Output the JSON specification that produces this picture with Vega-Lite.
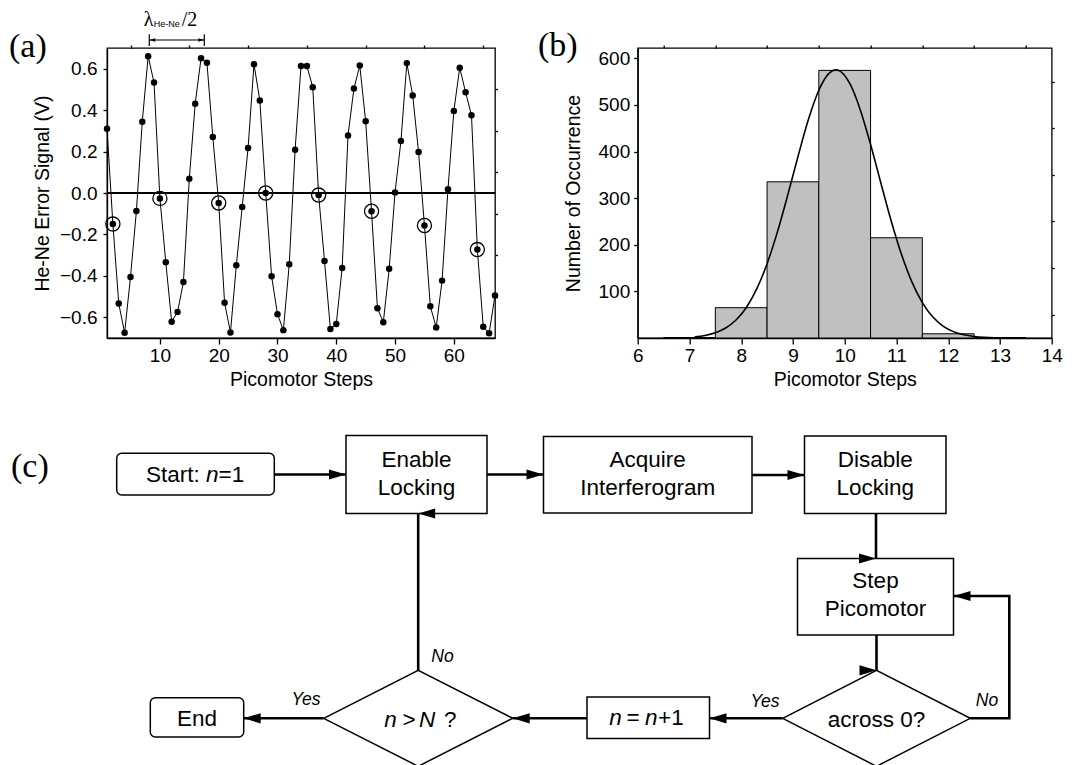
{
  "$schema": "https://vega.github.io/schema/vega-lite/v6.json",
  "background": "white",
  "padding": {"left": 8, "top": 9, "right": 0, "bottom": 0},
  "bounds": "flush",
  "spacing": 373,
  "config": {
    "font": "Liberation Sans",
    "view": {"stroke": "black", "strokeWidth": 1.3},
    "axis": {
      "labelFont": "Liberation Sans",
      "titleFont": "Liberation Sans",
      "labelFontSize": 19,
      "titleFontSize": 19.5,
      "titleFontWeight": "normal",
      "labelColor": "black",
      "titleColor": "black",
      "domainColor": "black",
      "tickColor": "black",
      "domainWidth": 1.3,
      "tickWidth": 1.3,
      "grid": false,
      "labelFlush": false,
      "labelOverlap": false,
      "labelBound": false
    }
  },
  "datasets": {
    "wave": [
      {"step": 1, "signal": 0.31, "crossing": false},
      {"step": 2, "signal": -0.15, "crossing": true},
      {"step": 3, "signal": -0.534, "crossing": false},
      {"step": 4, "signal": -0.675, "crossing": false},
      {"step": 5, "signal": -0.405, "crossing": false},
      {"step": 6, "signal": -0.087, "crossing": false},
      {"step": 7, "signal": 0.344, "crossing": false},
      {"step": 8, "signal": 0.66, "crossing": false},
      {"step": 9, "signal": 0.533, "crossing": false},
      {"step": 10, "signal": -0.026, "crossing": true},
      {"step": 11, "signal": -0.334, "crossing": false},
      {"step": 12, "signal": -0.622, "crossing": false},
      {"step": 13, "signal": -0.574, "crossing": false},
      {"step": 14, "signal": -0.43, "crossing": false},
      {"step": 15, "signal": 0.069, "crossing": false},
      {"step": 16, "signal": 0.431, "crossing": false},
      {"step": 17, "signal": 0.65, "crossing": false},
      {"step": 18, "signal": 0.629, "crossing": false},
      {"step": 19, "signal": 0.27, "crossing": false},
      {"step": 20, "signal": -0.048, "crossing": true},
      {"step": 21, "signal": -0.53, "crossing": false},
      {"step": 22, "signal": -0.673, "crossing": false},
      {"step": 23, "signal": -0.349, "crossing": false},
      {"step": 24, "signal": -0.067, "crossing": false},
      {"step": 25, "signal": 0.217, "crossing": false},
      {"step": 26, "signal": 0.622, "crossing": false},
      {"step": 27, "signal": 0.446, "crossing": false},
      {"step": 28, "signal": 0.0, "crossing": true},
      {"step": 29, "signal": -0.402, "crossing": false},
      {"step": 30, "signal": -0.585, "crossing": false},
      {"step": 31, "signal": -0.662, "crossing": false},
      {"step": 32, "signal": -0.344, "crossing": false},
      {"step": 33, "signal": 0.209, "crossing": false},
      {"step": 34, "signal": 0.613, "crossing": false},
      {"step": 35, "signal": 0.613, "crossing": false},
      {"step": 36, "signal": 0.511, "crossing": false},
      {"step": 37, "signal": -0.01, "crossing": true},
      {"step": 38, "signal": -0.328, "crossing": false},
      {"step": 39, "signal": -0.657, "crossing": false},
      {"step": 40, "signal": -0.632, "crossing": false},
      {"step": 41, "signal": -0.362, "crossing": false},
      {"step": 42, "signal": 0.278, "crossing": false},
      {"step": 43, "signal": 0.504, "crossing": false},
      {"step": 44, "signal": 0.615, "crossing": false},
      {"step": 45, "signal": 0.346, "crossing": false},
      {"step": 46, "signal": -0.088, "crossing": true},
      {"step": 47, "signal": -0.556, "crossing": false},
      {"step": 48, "signal": -0.624, "crossing": false},
      {"step": 49, "signal": -0.366, "crossing": false},
      {"step": 50, "signal": 0.003, "crossing": false},
      {"step": 51, "signal": 0.251, "crossing": false},
      {"step": 52, "signal": 0.627, "crossing": false},
      {"step": 53, "signal": 0.471, "crossing": false},
      {"step": 54, "signal": 0.198, "crossing": false},
      {"step": 55, "signal": -0.157, "crossing": true},
      {"step": 56, "signal": -0.547, "crossing": false},
      {"step": 57, "signal": -0.649, "crossing": false},
      {"step": 58, "signal": -0.423, "crossing": false},
      {"step": 59, "signal": 0.018, "crossing": false},
      {"step": 60, "signal": 0.396, "crossing": false},
      {"step": 61, "signal": 0.605, "crossing": false},
      {"step": 62, "signal": 0.486, "crossing": false},
      {"step": 63, "signal": 0.375, "crossing": false},
      {"step": 64, "signal": -0.273, "crossing": true},
      {"step": 65, "signal": -0.646, "crossing": false},
      {"step": 66, "signal": -0.677, "crossing": false},
      {"step": 67, "signal": -0.495, "crossing": false}
    ],
    "counts": [
      {"lo": 6.5, "hi": 7.5, "count": 1},
      {"lo": 7.5, "hi": 8.5, "count": 65},
      {"lo": 8.5, "hi": 9.5, "count": 335},
      {"lo": 9.5, "hi": 10.5, "count": 574},
      {"lo": 10.5, "hi": 11.5, "count": 215},
      {"lo": 11.5, "hi": 12.5, "count": 9},
      {"lo": 12.5, "hi": 13.5, "count": 1}
    ],
    "fit": [
      {"steps": 7.1, "count": 2.6}, {"steps": 7.3, "count": 5.5}, {"steps": 7.5, "count": 11.2},
      {"steps": 7.7, "count": 21.4}, {"steps": 7.9, "count": 38.5}, {"steps": 8.1, "count": 65.5},
      {"steps": 8.3, "count": 105.2}, {"steps": 8.5, "count": 159.3}, {"steps": 8.7, "count": 227.6},
      {"steps": 8.9, "count": 306.9}, {"steps": 9.1, "count": 390.5}, {"steps": 9.3, "count": 469.0},
      {"steps": 9.5, "count": 531.3}, {"steps": 9.7, "count": 568.0}, {"steps": 9.83, "count": 575.0},
      {"steps": 9.9, "count": 573.0}, {"steps": 10.1, "count": 545.4}, {"steps": 10.3, "count": 489.8},
      {"steps": 10.5, "count": 415.1}, {"steps": 10.7, "count": 332.0}, {"steps": 10.9, "count": 250.5},
      {"steps": 11.1, "count": 178.4}, {"steps": 11.3, "count": 119.8}, {"steps": 11.5, "count": 76.0},
      {"steps": 11.7, "count": 45.4}, {"steps": 11.9, "count": 25.6}, {"steps": 12.1, "count": 13.7},
      {"steps": 12.3, "count": 6.9}, {"steps": 12.5, "count": 3.3}, {"steps": 12.7, "count": 1.5},
      {"steps": 12.9, "count": 0.6}, {"steps": 13.1, "count": 0.2}, {"steps": 13.3, "count": 0.1}
    ],
    "boxes": [
      {"kind": "box", "x1": 345, "x2": 486, "y1": 434.5, "y2": 512.5},
      {"kind": "box", "x1": 542.5, "x2": 751, "y1": 435.5, "y2": 512},
      {"kind": "box", "x1": 803.5, "x2": 945, "y1": 435, "y2": 512.5},
      {"kind": "box", "x1": 796.5, "x2": 952.5, "y1": 557.5, "y2": 634},
      {"kind": "box", "x1": 586, "x2": 708.5, "y1": 696, "y2": 737.5},
      {"kind": "terminal", "x1": 115.7, "x2": 273.3, "y1": 452.3, "y2": 494},
      {"kind": "terminal", "x1": 149.3, "x2": 242.7, "y1": 696.7, "y2": 736}
    ],
    "decisions": [
      {"id": "count", "k": 0, "x": 322.7, "y": 717.3},
      {"id": "count", "k": 1, "x": 417.2, "y": 669.3},
      {"id": "count", "k": 2, "x": 511.7, "y": 717.3},
      {"id": "count", "k": 3, "x": 417.2, "y": 765.3},
      {"id": "count", "k": 4, "x": 322.7, "y": 717.3},
      {"id": "zero", "k": 0, "x": 781.7, "y": 717.3},
      {"id": "zero", "k": 1, "x": 875.5, "y": 669.3},
      {"id": "zero", "k": 2, "x": 969.3, "y": 717.3},
      {"id": "zero", "k": 3, "x": 875.5, "y": 765.3},
      {"id": "zero", "k": 4, "x": 781.7, "y": 717.3}
    ],
    "paths": [
      {"id": "l1", "k": 0, "x": 273.3, "y": 473.5}, {"id": "l1", "k": 1, "x": 345, "y": 473.5},
      {"id": "l2", "k": 0, "x": 486, "y": 473.5}, {"id": "l2", "k": 1, "x": 542.5, "y": 473.5},
      {"id": "l3", "k": 0, "x": 751, "y": 474}, {"id": "l3", "k": 1, "x": 803.5, "y": 474},
      {"id": "l4", "k": 0, "x": 875, "y": 512.5}, {"id": "l4", "k": 1, "x": 875, "y": 557.5},
      {"id": "l5", "k": 0, "x": 875.5, "y": 634}, {"id": "l5", "k": 1, "x": 875.5, "y": 669.3},
      {"id": "l6", "k": 0, "x": 969.3, "y": 717.3}, {"id": "l6", "k": 1, "x": 1008.3, "y": 717.3},
      {"id": "l6", "k": 2, "x": 1008.3, "y": 595}, {"id": "l6", "k": 3, "x": 952.5, "y": 595},
      {"id": "l7", "k": 0, "x": 781.7, "y": 717.3}, {"id": "l7", "k": 1, "x": 708.5, "y": 717.3},
      {"id": "l8", "k": 0, "x": 586, "y": 717.3}, {"id": "l8", "k": 1, "x": 511.7, "y": 717.3},
      {"id": "l9", "k": 0, "x": 322.7, "y": 717.3}, {"id": "l9", "k": 1, "x": 242.7, "y": 717.3},
      {"id": "l10", "k": 0, "x": 417.2, "y": 669.3}, {"id": "l10", "k": 1, "x": 417.2, "y": 512.5}
    ],
    "heads": [
      {"x": 345, "y": 473.5, "dir": "right"},
      {"x": 542.5, "y": 473.5, "dir": "right"},
      {"x": 803.5, "y": 474, "dir": "right"},
      {"x": 875, "y": 557.5, "dir": "down"},
      {"x": 875.5, "y": 669.3, "dir": "down"},
      {"x": 952.5, "y": 595, "dir": "left"},
      {"x": 708.5, "y": 717.3, "dir": "left"},
      {"x": 511.7, "y": 717.3, "dir": "left"},
      {"x": 242.7, "y": 717.3, "dir": "left"},
      {"x": 417.2, "y": 512.5, "dir": "up"}
    ],
    "captions": [
      {"x": 415.5, "y": 459, "text": "Enable"},
      {"x": 415.5, "y": 486.7, "text": "Locking"},
      {"x": 646.7, "y": 459, "text": "Acquire"},
      {"x": 646.7, "y": 486.7, "text": "Interferogram"},
      {"x": 874.3, "y": 459, "text": "Disable"},
      {"x": 874.3, "y": 486.7, "text": "Locking"},
      {"x": 874.5, "y": 580, "text": "Step"},
      {"x": 874.5, "y": 608.3, "text": "Picomotor"},
      {"x": 196, "y": 718, "text": "End"},
      {"x": 875.5, "y": 719, "text": "across 0?"}
    ],
    "pieces": [
      {"x": 145, "y": 473.5, "text": "Start:", "style": "upright"},
      {"x": 205, "y": 473.5, "text": "n", "style": "italic"},
      {"x": 217.5, "y": 473.5, "text": "=1", "style": "upright"},
      {"x": 608.3, "y": 717, "text": "n", "style": "italic"},
      {"x": 625.5, "y": 717, "text": "=", "style": "upright"},
      {"x": 644, "y": 717, "text": "n", "style": "italic"},
      {"x": 657, "y": 717, "text": "+1", "style": "upright"},
      {"x": 383.3, "y": 719, "text": "n", "style": "italic"},
      {"x": 401.5, "y": 719, "text": ">", "style": "upright"},
      {"x": 418, "y": 719, "text": "N", "style": "italic"},
      {"x": 443, "y": 719, "text": "?", "style": "upright"}
    ],
    "branches": [
      {"x": 305, "y": 699, "text": "Yes"},
      {"x": 441.5, "y": 656, "text": "No"},
      {"x": 764, "y": 700.5, "text": "Yes"},
      {"x": 986, "y": 699.5, "text": "No"}
    ]
  },
  "vconcat": [
    {
      "bounds": "flush",
      "spacing": 142.7,
      "hconcat": [
        {
          "width": 388,
          "height": 290,
          "layer": [
            {
              "data": {"name": "wave"},
              "mark": {"type": "rule", "color": "black", "strokeWidth": 1},
              "encoding": {
                "y": {"datum": 0, "type": "quantitative", "scale": {"domain": [-0.7, 0.7], "nice": false, "zero": false}, "axis": null}
              }
            },
            {
              "data": {"name": "wave"},
              "mark": {"type": "line", "color": "black", "strokeWidth": 1},
              "encoding": {
                "x": {"field": "step", "type": "quantitative", "scale": {"domain": [1, 67], "nice": false, "zero": false},
                  "axis": {"values": [10, 20, 30, 40, 50, 60], "tickSize": 6, "labelPadding": 2, "title": "Picomotor Steps", "titlePadding": 5}},
                "y": {"field": "signal", "type": "quantitative", "scale": {"domain": [-0.7, 0.7], "nice": false, "zero": false},
                  "axis": {"values": [-0.6, -0.4, -0.2, 0, 0.2, 0.4, 0.6], "format": ".1f", "tickSize": 4, "labelPadding": 6, "title": "He-Ne Error Signal (V)", "titlePadding": 7}}
              }
            },
            {
              "data": {"name": "wave"},
              "mark": {"type": "point", "filled": true, "color": "black", "size": 42, "opacity": 1},
              "encoding": {
                "x": {"field": "step", "type": "quantitative", "scale": {"domain": [1, 67], "nice": false, "zero": false},
                  "axis": {"values": [5, 15, 25, 35, 45, 55, 65], "tickSize": 3, "labels": false, "domain": false, "title": null}},
                "y": {"field": "signal", "type": "quantitative", "scale": {"domain": [-0.7, 0.7], "nice": false, "zero": false},
                  "axis": {"values": [-0.5, -0.3, -0.1, 0.1, 0.3, 0.5], "tickSize": 2.5, "labels": false, "domain": false, "title": null}}
              }
            },
            {
              "data": {"name": "wave"},
              "transform": [{"filter": "datum.crossing"}],
              "mark": {"type": "point", "filled": false, "color": "black", "strokeWidth": 1.3, "size": 200, "opacity": 1},
              "encoding": {
                "x": {"field": "step", "type": "quantitative", "scale": {"domain": [1, 67], "nice": false, "zero": false}, "axis": null},
                "y": {"field": "signal", "type": "quantitative", "scale": {"domain": [-0.7, 0.7], "nice": false, "zero": false}, "axis": null}
              }
            },
            {
              "data": {"values": [
                {"x": 8.19, "y": 0.7386, "x2": 17.55, "y2": 0.7386},
                {"x": 8.19, "y": 0.7097, "x2": 8.19, "y2": 0.766},
                {"x": 17.55, "y": 0.7097, "x2": 17.55, "y2": 0.766}
              ]},
              "mark": {"type": "rule", "color": "black", "strokeWidth": 1.2},
              "encoding": {
                "x": {"field": "x", "type": "quantitative", "scale": {"domain": [1, 67], "nice": false, "zero": false}, "axis": null},
                "y": {"field": "y", "type": "quantitative", "scale": {"domain": [-0.7, 0.7], "nice": false, "zero": false}, "axis": null},
                "x2": {"field": "x2"},
                "y2": {"field": "y2"}
              }
            },
            {
              "data": {"values": [
                {"x": 8.19, "y": 0.7386, "dir": "left"},
                {"x": 17.55, "y": 0.7386, "dir": "right"}
              ]},
              "mark": {"type": "point", "filled": true, "color": "black", "size": 36, "opacity": 1, "strokeWidth": 0},
              "encoding": {
                "x": {"field": "x", "type": "quantitative", "scale": {"domain": [1, 67], "nice": false, "zero": false}, "axis": null},
                "y": {"field": "y", "type": "quantitative", "scale": {"domain": [-0.7, 0.7], "nice": false, "zero": false}, "axis": null},
                "shape": {"field": "dir", "type": "nominal", "legend": null,
                  "scale": {"domain": ["right", "left"], "range": ["M0,0L-2,-0.6L-2,0.6Z", "M0,0L2,-0.6L2,0.6Z"]}}
              }
            },
            {
              "data": {"values": [{"x": 8.06, "y": 0.806, "text": "λ"}]},
              "mark": {"type": "text", "font": "Liberation Serif", "fontSize": 20, "baseline": "alphabetic", "align": "center", "color": "black"},
              "encoding": {
                "x": {"field": "x", "type": "quantitative", "scale": {"domain": [1, 67], "nice": false, "zero": false}, "axis": null},
                "y": {"field": "y", "type": "quantitative", "scale": {"domain": [-0.7, 0.7], "nice": false, "zero": false}, "axis": null},
                "text": {"field": "text"}
              }
            },
            {
              "data": {"values": [{"x": 13.7, "y": 0.806, "text": "/2"}]},
              "mark": {"type": "text", "font": "Liberation Serif", "fontSize": 20, "baseline": "alphabetic", "align": "left", "color": "black"},
              "encoding": {
                "x": {"field": "x", "type": "quantitative", "scale": {"domain": [1, 67], "nice": false, "zero": false}, "axis": null},
                "y": {"field": "y", "type": "quantitative", "scale": {"domain": [-0.7, 0.7], "nice": false, "zero": false}, "axis": null},
                "text": {"field": "text"}
              }
            },
            {
              "data": {"values": [{"x": 8.944, "y": 0.801, "text": "He-Ne"}]},
              "mark": {"type": "text", "font": "Liberation Sans", "fontSize": 9, "baseline": "alphabetic", "align": "left", "color": "black"},
              "encoding": {
                "x": {"field": "x", "type": "quantitative", "scale": {"domain": [1, 67], "nice": false, "zero": false}, "axis": null},
                "y": {"field": "y", "type": "quantitative", "scale": {"domain": [-0.7, 0.7], "nice": false, "zero": false}, "axis": null},
                "text": {"field": "text"}
              }
            },
            {
              "data": {"values": [{"x": -15.67, "y": 0.658, "text": "(a)"}]},
              "mark": {"type": "text", "font": "Liberation Serif", "fontSize": 34, "baseline": "alphabetic", "align": "left", "color": "black"},
              "encoding": {
                "x": {"field": "x", "type": "quantitative", "scale": {"domain": [1, 67], "nice": false, "zero": false}, "axis": null},
                "y": {"field": "y", "type": "quantitative", "scale": {"domain": [-0.7, 0.7], "nice": false, "zero": false}, "axis": null},
                "text": {"field": "text"}
              }
            }
          ],
          "resolve": {"axis": {"x": "independent", "y": "independent"}}
        },
        {
          "width": 414,
          "height": 290,
          "layer": [
            {
              "data": {"name": "counts"},
              "mark": {"type": "rect", "fill": "#c0c0c0", "stroke": "black", "strokeWidth": 1},
              "encoding": {
                "x": {"field": "lo", "type": "quantitative", "scale": {"domain": [6, 14], "nice": false, "zero": false},
                  "axis": {"values": [6, 7, 8, 9, 10, 11, 12, 13, 14], "tickSize": 6, "labelPadding": 2, "title": "Picomotor Steps", "titlePadding": 5}},
                "x2": {"field": "hi"},
                "y": {"field": "count", "type": "quantitative", "scale": {"domain": [0, 622], "nice": false, "zero": true},
                  "axis": {"values": [100, 200, 300, 400, 500, 600], "tickSize": 4, "labelPadding": 4, "title": "Number of Occurrence", "titlePadding": 14}},
                "y2": {"datum": 0}
              }
            },
            {
              "data": {"name": "fit"},
              "mark": {"type": "line", "color": "black", "strokeWidth": 1.6, "interpolate": "monotone"},
              "encoding": {
                "x": {"field": "steps", "type": "quantitative", "scale": {"domain": [6, 14], "nice": false, "zero": false},
                  "axis": {"values": [6.5, 7.5, 8.5, 9.5, 10.5, 11.5, 12.5, 13.5], "tickSize": 3, "labels": false, "domain": false, "title": null}},
                "y": {"field": "count", "type": "quantitative", "scale": {"domain": [0, 622], "nice": false, "zero": true},
                  "axis": {"values": [50, 150, 250, 350, 450, 550], "tickSize": 2.5, "labels": false, "domain": false, "title": null}}
              }
            },
            {
              "data": {"values": [{"x": 4.073, "y": 604, "text": "(b)"}]},
              "mark": {"type": "text", "font": "Liberation Serif", "fontSize": 34, "baseline": "alphabetic", "align": "left", "color": "black"},
              "encoding": {
                "x": {"field": "x", "type": "quantitative", "scale": {"domain": [6, 14], "nice": false, "zero": false}, "axis": null},
                "y": {"field": "y", "type": "quantitative", "scale": {"domain": [0, 622], "nice": false, "zero": true}, "axis": null},
                "text": {"field": "text"}
              }
            }
          ],
          "resolve": {"axis": {"x": "independent", "y": "independent"}}
        }
      ]
    },
    {
      "width": 981,
      "height": 346,
      "view": {"stroke": null},
      "layer": [
        {
          "data": {"name": "boxes"},
          "transform": [{"filter": "datum.kind === 'box'"}],
          "mark": {"type": "rect", "fill": "white", "stroke": "black", "strokeWidth": 1.5},
          "encoding": {
            "x": {"field": "x1", "type": "quantitative", "scale": {"domain": [106, 1087], "nice": false, "zero": false}, "axis": null},
            "x2": {"field": "x2"},
            "y": {"field": "y1", "type": "quantitative", "scale": {"domain": [420, 766], "nice": false, "zero": false, "reverse": true}, "axis": null},
            "y2": {"field": "y2"}
          }
        },
        {
          "data": {"name": "boxes"},
          "transform": [{"filter": "datum.kind === 'terminal'"}],
          "mark": {"type": "rect", "fill": "white", "stroke": "black", "strokeWidth": 1.5, "cornerRadius": 5},
          "encoding": {
            "x": {"field": "x1", "type": "quantitative", "scale": {"domain": [106, 1087], "nice": false, "zero": false}, "axis": null},
            "x2": {"field": "x2"},
            "y": {"field": "y1", "type": "quantitative", "scale": {"domain": [420, 766], "nice": false, "zero": false, "reverse": true}, "axis": null},
            "y2": {"field": "y2"}
          }
        },
        {
          "data": {"name": "decisions"},
          "mark": {"type": "line", "color": "black", "strokeWidth": 1.5, "strokeJoin": "miter"},
          "encoding": {
            "x": {"field": "x", "type": "quantitative", "scale": {"domain": [106, 1087], "nice": false, "zero": false}, "axis": null},
            "y": {"field": "y", "type": "quantitative", "scale": {"domain": [420, 766], "nice": false, "zero": false, "reverse": true}, "axis": null},
            "detail": {"field": "id"},
            "order": {"field": "k"}
          }
        },
        {
          "data": {"name": "paths"},
          "mark": {"type": "line", "color": "black", "strokeWidth": 2.6, "strokeJoin": "miter"},
          "encoding": {
            "x": {"field": "x", "type": "quantitative", "scale": {"domain": [106, 1087], "nice": false, "zero": false}, "axis": null},
            "y": {"field": "y", "type": "quantitative", "scale": {"domain": [420, 766], "nice": false, "zero": false, "reverse": true}, "axis": null},
            "detail": {"field": "id"},
            "order": {"field": "k"}
          }
        },
        {
          "data": {"name": "heads"},
          "mark": {"type": "point", "filled": true, "color": "black", "size": 289, "opacity": 1, "strokeWidth": 0},
          "encoding": {
            "x": {"field": "x", "type": "quantitative", "scale": {"domain": [106, 1087], "nice": false, "zero": false}, "axis": null},
            "y": {"field": "y", "type": "quantitative", "scale": {"domain": [420, 766], "nice": false, "zero": false, "reverse": true}, "axis": null},
            "shape": {"field": "dir", "type": "nominal", "legend": null,
              "scale": {"domain": ["right", "left", "down", "up"],
                "range": ["M0,0L-2,-0.47L-2,0.47Z", "M0,0L2,-0.47L2,0.47Z", "M0,0L-0.47,-2L0.47,-2Z", "M0,0L-0.47,2L0.47,2Z"]}}
          }
        },
        {
          "data": {"name": "captions"},
          "mark": {"type": "text", "font": "Liberation Sans", "fontSize": 22.5, "align": "center", "baseline": "middle", "color": "black"},
          "encoding": {
            "x": {"field": "x", "type": "quantitative", "scale": {"domain": [106, 1087], "nice": false, "zero": false}, "axis": null},
            "y": {"field": "y", "type": "quantitative", "scale": {"domain": [420, 766], "nice": false, "zero": false, "reverse": true}, "axis": null},
            "text": {"field": "text"}
          }
        },
        {
          "data": {"name": "pieces"},
          "transform": [{"filter": "datum.style === 'upright'"}],
          "mark": {"type": "text", "font": "Liberation Sans", "fontSize": 22.5, "align": "left", "baseline": "middle", "color": "black"},
          "encoding": {
            "x": {"field": "x", "type": "quantitative", "scale": {"domain": [106, 1087], "nice": false, "zero": false}, "axis": null},
            "y": {"field": "y", "type": "quantitative", "scale": {"domain": [420, 766], "nice": false, "zero": false, "reverse": true}, "axis": null},
            "text": {"field": "text"}
          }
        },
        {
          "data": {"name": "pieces"},
          "transform": [{"filter": "datum.style === 'italic'"}],
          "mark": {"type": "text", "font": "Liberation Sans", "fontSize": 22.5, "fontStyle": "italic", "align": "left", "baseline": "middle", "color": "black"},
          "encoding": {
            "x": {"field": "x", "type": "quantitative", "scale": {"domain": [106, 1087], "nice": false, "zero": false}, "axis": null},
            "y": {"field": "y", "type": "quantitative", "scale": {"domain": [420, 766], "nice": false, "zero": false, "reverse": true}, "axis": null},
            "text": {"field": "text"}
          }
        },
        {
          "data": {"name": "branches"},
          "mark": {"type": "text", "font": "Liberation Sans", "fontSize": 17.5, "fontStyle": "italic", "align": "center", "baseline": "middle", "color": "black"},
          "encoding": {
            "x": {"field": "x", "type": "quantitative", "scale": {"domain": [106, 1087], "nice": false, "zero": false}, "axis": null},
            "y": {"field": "y", "type": "quantitative", "scale": {"domain": [420, 766], "nice": false, "zero": false, "reverse": true}, "axis": null},
            "text": {"field": "text"}
          }
        },
        {
          "data": {"values": [{"x": 10, "y": 476, "text": "(c)"}]},
          "mark": {"type": "text", "font": "Liberation Serif", "fontSize": 34, "align": "left", "baseline": "alphabetic", "color": "black"},
          "encoding": {
            "x": {"field": "x", "type": "quantitative", "scale": {"domain": [106, 1087], "nice": false, "zero": false}, "axis": null},
            "y": {"field": "y", "type": "quantitative", "scale": {"domain": [420, 766], "nice": false, "zero": false, "reverse": true}, "axis": null},
            "text": {"field": "text"}
          }
        }
      ]
    }
  ]
}
